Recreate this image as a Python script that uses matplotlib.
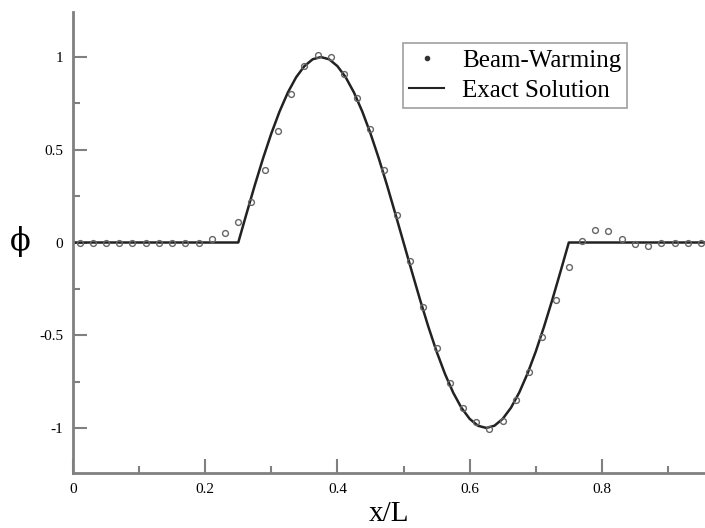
import matplotlib
matplotlib.use("Agg")
import matplotlib.pyplot as plt
from matplotlib.ticker import FixedLocator, MultipleLocator
from matplotlib.lines import Line2D

# Beam-Warming numerical points
bw_x = [0.01, 0.03, 0.05, 0.07, 0.09, 0.11, 0.13, 0.15, 0.17, 0.19, 0.21, 0.23,
        0.25, 0.27, 0.29, 0.31, 0.33, 0.35, 0.37, 0.39, 0.41, 0.43, 0.45, 0.47,
        0.49, 0.51, 0.53, 0.55, 0.57, 0.59, 0.61, 0.63, 0.65, 0.67, 0.69, 0.71,
        0.73, 0.75, 0.77, 0.79, 0.81, 0.83, 0.85, 0.87, 0.89, 0.91, 0.93, 0.95]
bw_y = [0.0, 0.0, 0.0, 0.0, 0.0, 0.0, 0.0, 0.0, 0.0, 0.0, 0.02, 0.05,
        0.11, 0.22, 0.39, 0.60, 0.80, 0.95, 1.01, 1.00, 0.91, 0.78, 0.61, 0.39,
        0.15, -0.10, -0.35, -0.57, -0.755, -0.89, -0.97, -1.005, -0.96, -0.85, -0.70, -0.51,
        -0.31, -0.13, 0.01, 0.07, 0.06, 0.02, -0.01, -0.02, -0.005, 0.0, 0.0, 0.0]

# Exact solution
ex_x = [0.0, 0.25, 0.2625, 0.275, 0.2875, 0.3, 0.3125, 0.325, 0.3375, 0.35, 0.3625,
        0.375, 0.3875, 0.4, 0.4125, 0.425, 0.4375, 0.45, 0.4625, 0.475, 0.4875,
        0.5, 0.5125, 0.525, 0.5375, 0.55, 0.5625, 0.575, 0.5875, 0.6, 0.6125,
        0.625, 0.6375, 0.65, 0.6625, 0.675, 0.6875, 0.7, 0.7125, 0.725, 0.7375,
        0.75, 0.96]
ex_y = [0.0, 0.0, 0.156, 0.309, 0.454, 0.588, 0.707, 0.809, 0.891, 0.951, 0.988,
        1.0, 0.988, 0.951, 0.891, 0.809, 0.707, 0.588, 0.454, 0.309, 0.156,
        0.0, -0.156, -0.309, -0.454, -0.588, -0.707, -0.809, -0.891, -0.951, -0.988,
        -1.0, -0.988, -0.951, -0.891, -0.809, -0.707, -0.588, -0.454, -0.309, -0.156,
        0.0, 0.0]

x_ticks = [0, 0.2, 0.4, 0.6, 0.8]
x_ticklabels = ["0", "0.2", "0.4", "0.6", "0.8"]
y_ticks = [-1, -0.5, 0, 0.5, 1]
y_ticklabels = ["-1", "-0.5", "0", "0.5", "1"]

plt.rcParams["font.family"] = ["Liberation Serif", "DejaVu Serif"]

fig = plt.figure(figsize=(7.05, 5.28), dpi=100)
ax = fig.add_axes([73/705, 1-473/528, 1-73/705, (473-12)/528])

ax.plot(ex_x, ex_y, color="#222222", lw=1.8, zorder=2)
ax.plot(bw_x, bw_y, linestyle="none", marker="o", ms=4.2, mfc="none",
        mec="#666666", mew=1.0, zorder=3)

ax.set_xlim(0, 0.956)
ax.set_ylim(-1.243, 1.243)

for s in ["top", "right"]:
    ax.spines[s].set_visible(False)
for s in ["left", "bottom"]:
    ax.spines[s].set_color("#808080")
    ax.spines[s].set_linewidth(2.0)

ax.xaxis.set_major_locator(FixedLocator(x_ticks))
ax.set_xticklabels(x_ticklabels)
ax.yaxis.set_major_locator(FixedLocator(y_ticks))
ax.set_yticklabels(y_ticklabels)
ax.xaxis.set_minor_locator(MultipleLocator(0.1))
ax.yaxis.set_minor_locator(MultipleLocator(0.25))
ax.tick_params(which="major", direction="in", length=10, width=1.5, color="#808080",
               labelsize=11, pad=7)
ax.tick_params(which="minor", direction="in", length=5, width=1.5, color="#808080")

ax.set_xlabel("x/L", fontsize=21, labelpad=4)
fig.text(20/705, 1-242/528, "\u03d5", fontsize=22, ha="center", va="center",
         family=["DejaVu Serif"])

handles = [Line2D([], [], linestyle="none", marker="o", ms=3, color="#333333"),
           Line2D([], [], color="#222222", lw=1.5)]
leg = ax.legend(handles, ["Beam-Warming", "Exact Solution"], loc="upper left",
                bbox_to_anchor=(403/705, 1 - 43/528), bbox_transform=fig.transFigure,
                borderaxespad=0, fontsize=18, frameon=True,
                fancybox=False, edgecolor="#888888", handlelength=1.4,
                borderpad=0.25, labelspacing=0.3, handletextpad=0.7)
leg.get_frame().set_linewidth(1.2)

fig.savefig("out.png", dpi=100)
